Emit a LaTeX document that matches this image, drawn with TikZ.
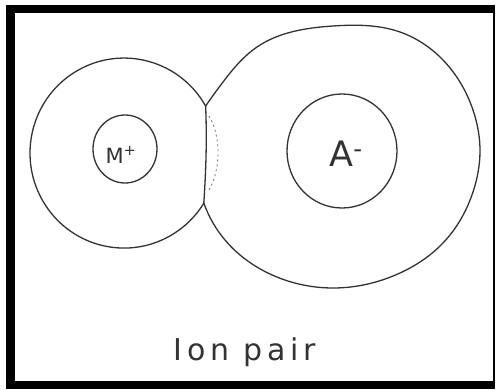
\documentclass[tikz,border=0pt]{standalone}
\usepackage{fontspec}
\usetikzlibrary{hobby}
\newfontfamily\hand[LetterSpace=16]{DejaVu Sans}
\newfontfamily\handb{DejaVu Sans}
\begin{document}
\begin{tikzpicture}[x=1pt,y=-1pt,
  pen/.style={draw=black!80, line width=1.3pt, line join=round, line cap=round},
  ion/.style={text=black!80, inner sep=0pt}]
\useasboundingbox (0,0) rectangle (496,389);
\fill[white] (0,0) rectangle (496,389);
% frame
\fill[black] (6,5) rectangle (494.5,389);
\fill[white] (15,13) rectangle (493,381);
% junction points
\coordinate (jt) at (205.65,106);
\coordinate (jb) at (203.8,203);
% left (cation) shell
\draw[pen] (jt) arc[start angle=-29.7, end angle=-328.2, x radius=94, y radius=95];
% right (anion) shell
\draw[pen, use Hobby shortcut] (jt) .. (223,82) .. (257,47) .. (333,26) .. (400,32) .. (443,60) .. (473,110) .. (480,152) .. (473,192) .. (443,243) .. (400,273) .. (333,288) .. (270,274) .. (225,240) .. (jb);
\draw[pen] (jb) .. controls (206,170) and (207,140) .. (jt);
% dotted overlap
\draw[draw=black!55, line width=0.8pt, dash pattern=on 2pt off 3pt] (209,116) .. controls (221,135) and (221,170) .. (209,190);
% inner ions
\draw[pen] (125,149) ellipse [x radius=32, y radius=34];
\draw[pen] (342,151) ellipse [x radius=55, y radius=57];
\node[ion, font=\handb\fontsize{21}{21}\selectfont] (m) at (121,155) {M\textsuperscript{+}};
\node[ion, font=\handb\fontsize{35}{35}\selectfont] (a) at (346,154) {A\textsuperscript{-}};
\node[ion, font=\hand\fontsize{30}{30}\selectfont] (lbl) at (245,352) {Ion pair};
\end{tikzpicture}
\end{document}
